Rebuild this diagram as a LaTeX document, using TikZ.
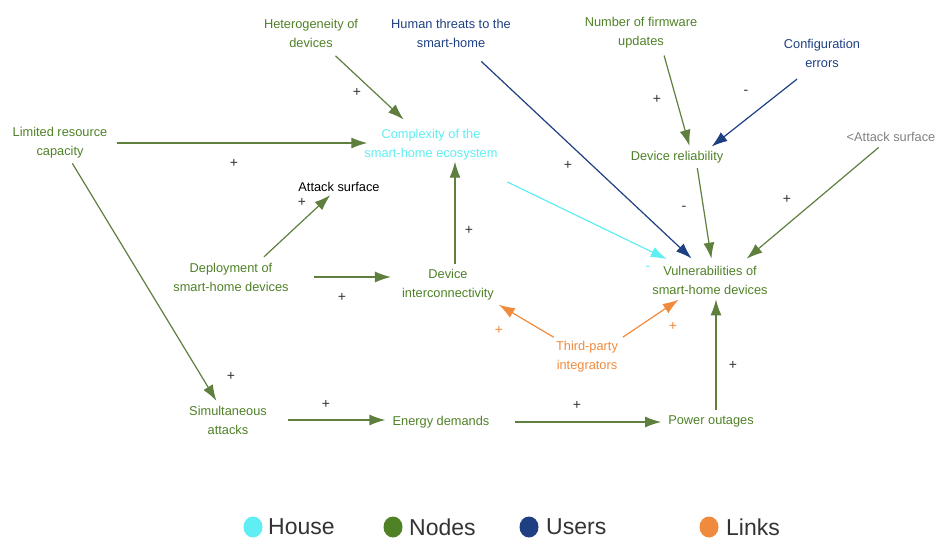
\documentclass[tikz,border=0pt]{standalone}
\usepackage{fontspec}
\setmainfont{Liberation Sans}
\usetikzlibrary{arrows.meta,shapes.geometric}
\definecolor{nodegreen}{HTML}{4F8127}
\definecolor{linkgreen}{HTML}{5E7F3E}
\definecolor{housecyan}{HTML}{5EEEF3}
\definecolor{usernavy}{HTML}{1E3F82}
\definecolor{linkorange}{HTML}{F08A3C}
\definecolor{signgrey}{HTML}{333333}
\tikzset{
  var/.style={font=\fontsize{12.8}{19}\selectfont, align=center, inner sep=3pt},
  greenvar/.style={var, text=nodegreen},
  link/.style={line width=1.2pt, -{Latex[length=16pt,width=11pt]}},
  glink/.style={link, draw=linkgreen},
  sign/.style={font=\fontsize{14}{14}\selectfont, text=signgrey, inner sep=0pt},
  legdot/.style={ellipse, minimum width=19pt, minimum height=21pt, inner sep=0pt},
  legtext/.style={font=\fontsize{23}{23}\selectfont, text=black!80, anchor=west, inner sep=0pt}
}
\begin{document}
\begin{tikzpicture}[x=1pt,y=-1pt]
\useasboundingbox (0,0) rectangle (947,541);

% variables
\node[greenvar] (het) at (311,33) {Heterogeneity of\\devices};
\node[var, text=usernavy] (hum) at (451,33) {Human threats to the\\smart-home};
\node[greenvar] (fw) at (641,33) {Number of firmware\\updates};
\node[var, text=usernavy] (cfg) at (822,53) {Configuration\\errors};
\node[greenvar] (lim) at (60,143) {Limited resource\\capacity};
\node[var, text=housecyan] (cpx) at (431,145) {Complexity of the\\smart-home ecosystem};
\node[greenvar] (rel) at (677,157) {Device reliability};
\node[var, text=gray] (atk2) at (891,137) {<Attack surface};
\node[var, text=black, inner sep=0.5pt] (atk1) at (339,187) {Attack surface};
\node[greenvar] (dep) at (231,277) {Deployment of\\smart-home devices};
\node[greenvar] (int) at (448,285) {Device\\interconnectivity};
\node[greenvar] (vul) at (710,280) {Vulnerabilities of\\smart-home devices};
\node[var, text=linkorange] (tpi) at (587,357) {Third-party\\integrators};
\node[greenvar] (sim) at (228,420) {Simultaneous\\attacks};
\node[greenvar] (ene) at (441,422) {Energy demands};
\node[greenvar] (pow) at (711,421) {Power outages};

% causal links
\draw[glink, shorten <=8pt, shorten >=10pt] (het) -- (cpx);
\draw[glink, shorten <=6pt, shorten >=-6pt] (lim.east) -- (cpx.west |- lim.east);
\draw[glink, shorten <=2pt, shorten >=2pt] (lim) -- (sim);
\draw[link, draw=usernavy, shorten <=16pt, shorten >=6pt] (hum) -- ([xshift=-14pt]vul.north);
\draw[glink, shorten <=4pt, shorten >=2pt] ([xshift=22pt]fw.south) -- ([xshift=13pt]rel.north);
\draw[link, draw=usernavy, shorten <=14pt, shorten >=2pt] ([xshift=-14pt]cfg.south) -- ([xshift=33pt]rel.north);
\draw[glink, shorten <=2pt, shorten >=4pt] ([xshift=20pt]rel.south) -- ([xshift=2pt]vul.north);
\draw[glink, shorten <=4pt, shorten >=6pt] (atk2) -- ([xshift=32pt]vul.north);
\draw[link, draw=housecyan, shorten <=42pt, shorten >=8pt] (cpx) -- ([xshift=-36pt]vul.north);
\draw[glink, shorten <=4pt, shorten >=4pt] ([xshift=30pt]dep.north) -- (atk1);
\draw[glink, shorten <=22pt, shorten >=8pt] (dep.east) -- (int.west |- dep.east);
\draw[glink, shorten <=2pt, shorten >=-2pt] ([xshift=7pt]int.north) -- ([xshift=7pt]int.north |- cpx.south);
\draw[link, draw=linkorange, shorten <=2pt, shorten >=2pt] (tpi) -- (int.south east);
\draw[link, draw=linkorange, shorten <=2pt, shorten >=4pt] (tpi.north east) -- ([xshift=-28pt]vul.south);
\draw[glink, shorten <=18pt, shorten >=4pt] (sim.east) -- (sim.east -| ene.west);
\draw[glink, shorten <=22pt, shorten >=4pt] (ene.east) -- (ene.east -| pow.west);
\draw[glink, shorten <=2pt, shorten >=2pt] ([xshift=5pt]pow.north) -- ([xshift=5pt]pow.north |- vul.south);

% polarity signs
\node[sign] (s1) at (357,92) {+};
\node[sign] (s2) at (234,163) {+};
\node[sign] (s3) at (231,376) {+};
\node[sign] (s4) at (568,165) {+};
\node[sign] (s5) at (657,99) {+};
\node[sign] (s6) at (746,92) {-};
\node[sign] (s7) at (684,208) {-};
\node[sign] (s8) at (787,199) {+};
\node[sign, text=housecyan] (s9) at (648,268) {-};
\node[sign] (s10) at (302,202) {+};
\node[sign] (s11) at (342,297) {+};
\node[sign] (s12) at (469,230) {+};
\node[sign, text=linkorange] (s13) at (499,330) {+};
\node[sign, text=linkorange] (s14) at (673,326) {+};
\node[sign] (s15) at (326,404) {+};
\node[sign] (s16) at (577,405) {+};
\node[sign] (s17) at (733,365) {+};

% legend
\node[legdot, fill=housecyan] (d1) at (253,527) {};
\node[legtext] (l1) at (268,527) {House};
\node[legdot, fill=nodegreen] (d2) at (393,527) {};
\node[legtext] (l2) at (409,527) {Nodes};
\node[legdot, fill=usernavy] (d3) at (529,527) {};
\node[legtext] (l3) at (546,527) {Users};
\node[legdot, fill=linkorange] (d4) at (709,527) {};
\node[legtext] (l4) at (726,527) {Links};
\end{tikzpicture}
\end{document}
